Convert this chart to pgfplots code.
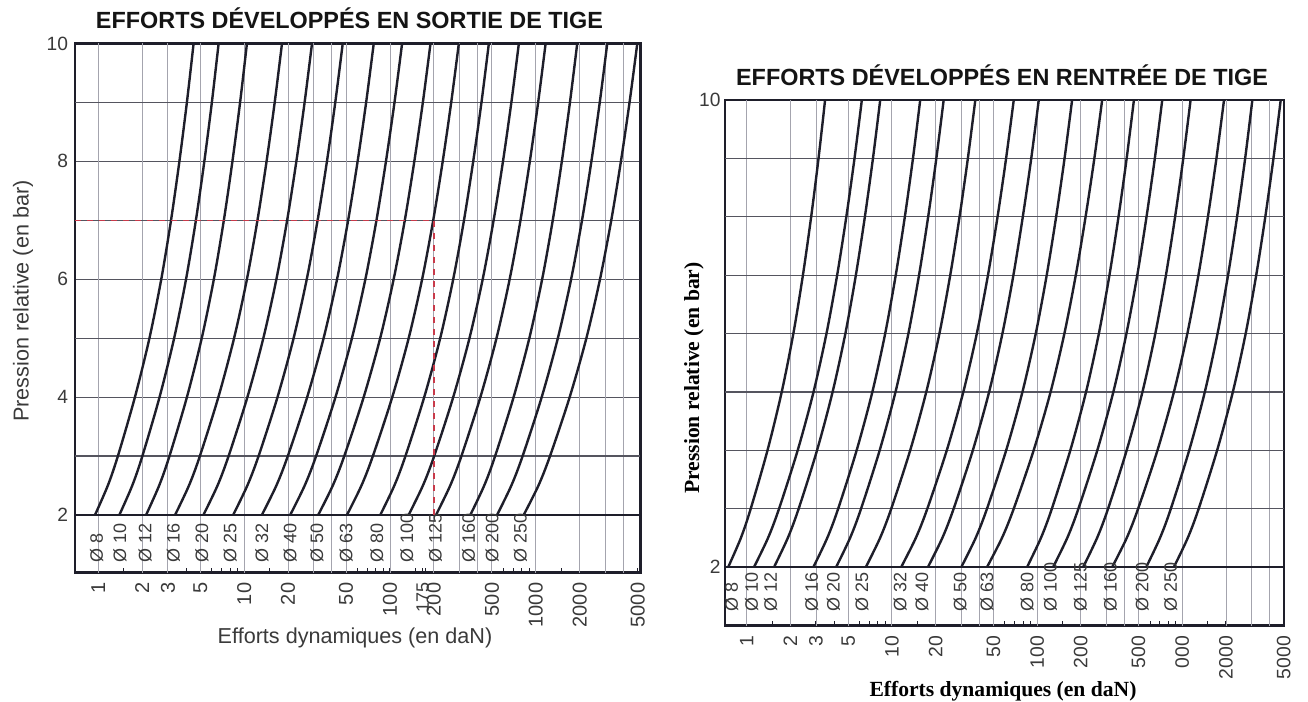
\documentclass[border=0pt]{standalone}
\usepackage{pgfplots}
\pgfplotsset{compat=1.18}
\usepackage{pgfplotstable}
\usepackage{fontspec}
\setmainfont{Liberation Sans}
\newfontfamily\seriffont{Liberation Serif}
\definecolor{ccol}{HTML}{1E1E2A}
\definecolor{hgrid}{HTML}{55555F}
\definecolor{vgrid}{HTML}{A4A4AE}
\definecolor{txt}{HTML}{3A3A3A}
\definecolor{redl}{HTML}{C83A4A}

% Sortie de tige : effort (daN) read for each bore at p (bar)
\pgfplotstableread{
p   d8    d10   d12   d16   d20   d25   d32   d40   d50   d63   d80   d100  d125  d160  d200  d250
2   0.949 1.394 2.126 3.360 5.256 8.406 13.23 20.69 32.20 50.69 85.8  134.2 206.9 355.7 542.6 826.0
2.5 1.162 1.709 2.614 4.185 6.570 10.52 16.64 26.02 40.55 63.77 107.2 168.3 259.0 443.0 680.0 1043
3   1.362 2.005 3.076 4.972 7.824 12.56 19.93 31.16 48.61 76.37 127.7 201.0 309.1 526.3 812.3 1252
4   1.783 2.630 4.052 6.658 10.53 16.94 27.06 42.31 66.05 103.7 171.8 271.6 417.0 704.7 1098  1708
5   2.242 3.311 5.120 8.531 13.54 21.84 35.07 54.86 85.70 134.4 221.1 351.0 537.8 903.4 1417  2223
6   2.702 3.996 6.199 10.45 16.64 26.88 43.37 67.82 106.0 166.2 271.5 432.4 662.0 1106  1747  2757
7   3.152 4.668 7.258 12.34 19.72 31.90 51.66 80.79 126.4 198.0 321.8 513.8 785.5 1307  2075  3293
8   3.598 5.334 8.310 14.25 22.81 36.97 60.01 93.87 146.9 230.0 372.3 595.8 910.2 1509  2406  3836
9   4.049 6.007 9.380 16.20 25.98 42.16 68.65 107.4 168.1 263.0 424.1 680.0 1038  1715  2746  4395
10  4.502 6.683 10.45 18.18 29.20 47.43 77.41 121.1 189.7 296.7 476.6 765.6 1168  1924  3091  4966
}\tabL

% Rentree de tige
\pgfplotstableread{
p   d8    d10   d12   d16   d20   d25   d32   d40   d50   d63   d80   d100  d125  d160  d200  d250
2   0.746 1.123 1.543 2.880 4.129 6.617 11.59 17.71 30.07 45.20 85.3  128.9 207.6 329.0 564.6 875.2
2.5 0.912 1.403 1.920 3.589 5.154 8.293 14.62 22.26 37.77 57.32 106.3 161.4 259.0 414.5 702.6 1091
3   1.066 1.670 2.280 4.266 6.133 9.899 17.54 26.63 45.19 69.06 126.4 192.6 308.3 496.4 834.3 1297
4   1.391 2.245 3.051 5.718 8.240 13.37 23.88 36.10 61.25 94.71 169.4 259.9 414.0 674.8 1116  1738
5   1.743 2.886 3.906 7.338 10.59 17.25 31.05 46.74 79.29 123.9 217.4 335.2 531.8 876.0 1430  2230
6   2.096 3.544 4.782 8.992 12.99 21.25 38.46 57.71 97.93 154.2 266.4 412.6 652.4 1084  1750  2733
7   2.439 4.198 5.648 10.63 15.38 25.23 45.90 68.70 116.5 184.8 315.1 489.8 772.0 1292  2067  3231
8   2.780 4.855 6.516 12.28 17.78 29.24 53.43 79.75 135.3 215.8 363.8 567.3 892.6 1502  2385  3732
9   3.124 5.528 7.407 13.97 20.24 33.37 61.18 91.17 154.6 248.0 414.0 647.1 1016  1719  2711  4246
10  3.467 6.21  8.31  15.67 22.73 37.54 69.08 102.7 174.3 280.7 464.5 728.0 1141  1939  3039  4764
}\tabR

\tikzset{
  dlab/.style={rotate=90, anchor=west, inner sep=0pt, font=\fontsize{9}{10}\selectfont, text=txt},
}

\begin{document}
\begin{tikzpicture}[x=0.5pt,y=-0.5pt]
\path[use as bounding box] (0,0) rectangle (1308,702);

% ---------- Left : sortie de tige ----------
\begin{axis}[at={(37.5pt,-286.25pt)}, anchor=south west,
  scale only axis, width=282.75pt, height=264.5pt,
  xmode=log,
  xmin=0.692, xmax=5224, ymin=1.024, ymax=10,
  axis line style={draw=ccol, line width=1.1pt},
  tick align=inside, xtick pos=left, ytick pos=left,
  major tick length=2.5pt, minor tick length=2.5pt,
  tick style={draw=ccol, line width=0.5pt},
  ytick style={draw=none},
  xtick={1,2,3,5,10,20,50,100,168,200,500,1000,2000,5000},
  xticklabels={1,2,3,5,10,20,50,100,{\fontsize{9}{10}\selectfont 175},200,500,1000,2000,5000},
  minor xtick={1.5,4,6,7,8,9,15,30,40,60,70,80,90,150,175,300,400,600,700,800,900,1500,3000,4000},
  extra x ticks={1,2,3,5,10,20,30,40,50,100,200,300,400,500,1000,2000,3000,4000},
  extra x tick labels={},
  extra x tick style={grid=major, major tick length=0pt},
  x grid style={draw=vgrid, line width=0.45pt},
  y grid style={draw=hgrid, line width=0.6pt},
  ymajorgrids,
  ytick={2,4,6,8,10}, yticklabels={2,4,6,8,10},
  extra y ticks={3,5,7,9}, extra y tick labels={},
  extra y tick style={grid=major, major tick length=0pt},
  xticklabel style={rotate=90, anchor=east, font=\fontsize{10}{12}\selectfont, text=txt},
  xticklabel shift=1.6pt,
  yticklabel style={font=\fontsize{9.6}{11}\selectfont, text=txt},
]
\addplot[draw=ccol, line width=1pt] coordinates {(0.692,2) (5224,2)};
\pgfplotsinvokeforeach{d8,d10,d12,d16,d20,d25,d32,d40,d50,d63,d80,d100,d125,d160,d200,d250}{
  \addplot[draw=ccol, line width=1.2pt, smooth] table[x=#1, y=p] {\tabL};
}
\addplot[draw=redl, dashed, line width=0.7pt] coordinates {(0.692,7) (200,7) (200,2)};
\node[dlab] at (axis cs:0.975,1.19) {Ø 8};
\node[dlab] at (axis cs:1.409,1.19) {Ø 10};
\node[dlab] at (axis cs:2.092,1.19) {Ø 12};
\node[dlab] at (axis cs:3.272,1.19) {Ø 16};
\node[dlab] at (axis cs:5.125,1.19) {Ø 20};
\node[dlab] at (axis cs:8.014,1.19) {Ø 25};
\node[dlab] at (axis cs:13.23,1.19) {Ø 32};
\node[dlab] at (axis cs:20.69,1.19) {Ø 40};
\node[dlab] at (axis cs:31.55,1.19) {Ø 50};
\node[dlab] at (axis cs:50.1,1.19) {Ø 63};
\node[dlab] at (axis cs:81.4,1.19) {Ø 80};
\node[dlab] at (axis cs:130.8,1.19) {Ø 100};
\node[dlab] at (axis cs:204.6,1.19) {Ø 125};
\node[dlab] at (axis cs:346.4,1.19) {Ø 160};
\node[dlab] at (axis cs:501.5,1.19) {Ø 200};
\node[dlab] at (axis cs:784.1,1.19) {Ø 250};
\end{axis}

% ---------- Right : rentree de tige ----------
\begin{axis}[at={(362.5pt,-312.75pt)}, anchor=south west,
  scale only axis, width=279.5pt, height=262.75pt,
  xmode=log,
  xmin=0.709, xmax=5020, ymin=1.0, ymax=10,
  axis line style={draw=ccol, line width=1.1pt},
  tick align=inside, xtick pos=left, ytick pos=left,
  major tick length=2.5pt, minor tick length=2.5pt,
  tick style={draw=ccol, line width=0.5pt},
  ytick style={draw=none},
  xtick={1,2,3,5,10,20,50,100,200,500,1000,2000,5000},
  xticklabels={1,2,3,5,10,20,50,100,200,500,1000,2000,5000},
  minor xtick={1.5,4,6,7,8,9,15,30,40,60,70,80,90,150,300,400,600,700,800,900,1500,3000,4000},
  extra x ticks={1,2,3,5,10,20,30,40,50,100,200,300,400,500,1000,2000,3000,4000},
  extra x tick labels={},
  extra x tick style={grid=major, major tick length=0pt},
  x grid style={draw=vgrid, line width=0.45pt},
  y grid style={draw=hgrid, line width=0.6pt},
  ymajorgrids,
  ytick={2,10}, yticklabels={2,10},
  extra y ticks={3,4,5,6,7,8,9}, extra y tick labels={},
  extra y tick style={grid=major, major tick length=0pt},
  xticklabel style={rotate=90, anchor=east, font=\fontsize{9.7}{12}\selectfont, text=txt},
  xticklabel shift=1.8pt,
  yticklabel style={font=\fontsize{9.6}{11}\selectfont, text=txt, inner sep=2pt},
]
\addplot[draw=ccol, line width=1pt] coordinates {(0.709,2) (5020,2)};
\pgfplotsinvokeforeach{d8,d10,d12,d16,d20,d25,d32,d40,d50,d63,d80,d100,d125,d160,d200,d250}{
  \addplot[draw=ccol, line width=1.2pt, smooth] table[x=#1, y=p] {\tabR};
}
\node[dlab] at (axis cs:0.788,1.23) {Ø 8};
\node[dlab] at (axis cs:1.083,1.23) {Ø 10};
\node[dlab] at (axis cs:1.464,1.23) {Ø 12};
\node[dlab] at (axis cs:2.807,1.23) {Ø 16};
\node[dlab] at (axis cs:3.956,1.23) {Ø 20};
\node[dlab] at (axis cs:6.21,1.23) {Ø 25};
\node[dlab] at (axis cs:11.41,1.23) {Ø 32};
\node[dlab] at (axis cs:16.10,1.23) {Ø 40};
\node[dlab] at (axis cs:29.58,1.23) {Ø 50};
\node[dlab] at (axis cs:45.20,1.23) {Ø 63};
\node[dlab] at (axis cs:85.3,1.23) {Ø 80};
\node[dlab] at (axis cs:123.5,1.23) {Ø 100};
\node[dlab] at (axis cs:198.9,1.23) {Ø 125};
\node[dlab] at (axis cs:320.2,1.23) {Ø 160};
\node[dlab] at (axis cs:529.8,1.23) {Ø 200};
\node[dlab] at (axis cs:830.6,1.23) {Ø 250};
\end{axis}

% ---------- Titles and axis labels ----------
\node[anchor=base, font=\bfseries\fontsize{11.7}{14}\selectfont, text=black!92] at (349.5,28) {EFFORTS DÉVELOPPÉS EN SORTIE DE TIGE};
\node[anchor=base, font=\bfseries\fontsize{11.7}{14}\selectfont, text=black!92] at (1002,85) {EFFORTS DÉVELOPPÉS EN RENTRÉE DE TIGE};

\node[rotate=90, font=\fontsize{10.8}{13}\selectfont, text=txt] at (23,301) {Pression relative (en bar)};
\node[font=\fontsize{10.8}{13}\selectfont, text=txt] at (355,638) {Efforts dynamiques (en daN)};

\fill[white] (860,669) rectangle (1195,702);
\node[rotate=90, font=\seriffont\bfseries\fontsize{10.8}{13}\selectfont] at (694,378) {Pression relative (en bar)};
\node[font=\seriffont\bfseries\fontsize{10.8}{13}\selectfont] at (1003,691) {Efforts dynamiques (en daN)};
\end{tikzpicture}
\end{document}
